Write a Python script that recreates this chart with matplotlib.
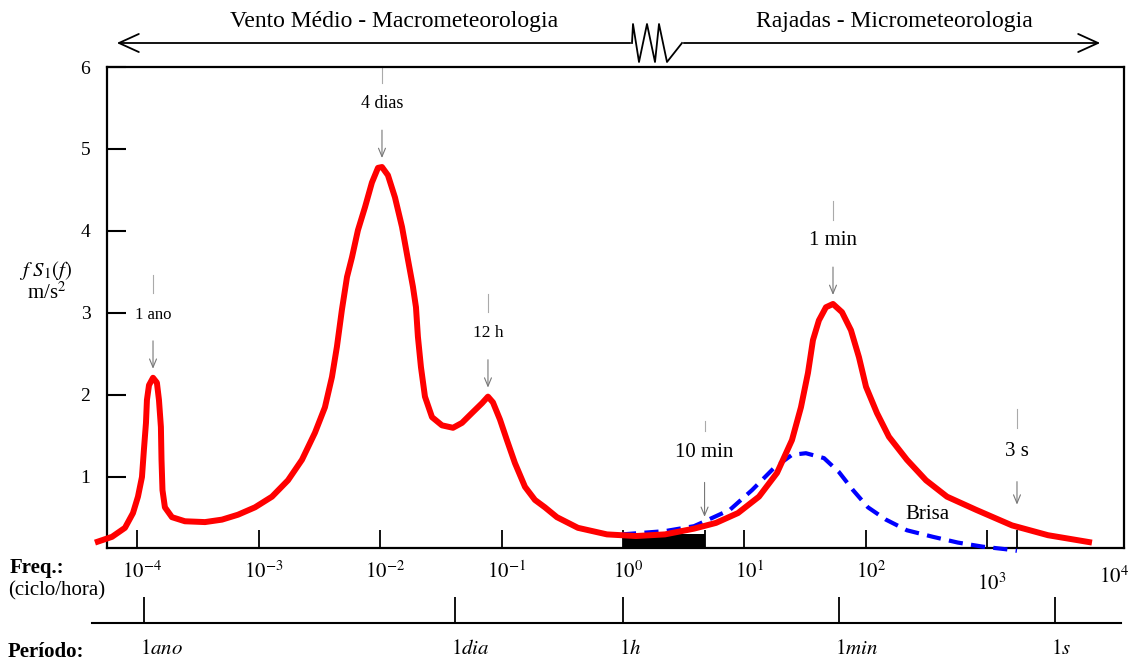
import numpy as np
import matplotlib
matplotlib.use('Agg')
import matplotlib.pyplot as plt
from matplotlib.lines import Line2D
from matplotlib.patches import FancyArrowPatch
from matplotlib.ticker import NullLocator
from matplotlib.transforms import offset_copy

plt.rcParams['font.family'] = ['Liberation Serif', 'DejaVu Serif']
plt.rcParams['mathtext.fontset'] = 'stix'

# espectro do vento horizontal: log10 da frequencia (ciclo/hora) e f*S1(f)
log_f_vento = [-4.349, -4.209, -4.102, -4.036, -3.995, -3.962, -3.946, -3.929, -3.921, -3.904,
               -3.871, -3.839, -3.822, -3.806, -3.801, -3.793, -3.773, -3.715, -3.608, -3.443,
               -3.303, -3.171, -3.031, -2.891, -2.759, -2.644, -2.537, -2.455, -2.397, -2.356,
               -2.315, -2.273, -2.232, -2.183, -2.125, -2.068, -2.018, -1.985, -1.936, -1.878,
               -1.820, -1.771, -1.730, -1.705, -1.689, -1.664, -1.631, -1.573, -1.491, -1.400,
               -1.326, -1.244, -1.161, -1.112, -1.071, -1.013, -0.956, -0.890, -0.807, -0.725,
               -0.643, -0.544, -0.371, -0.132, 0.107, 0.346, 0.585, 0.766, 0.947, 1.120,
               1.269, 1.392, 1.466, 1.524, 1.565, 1.614, 1.672, 1.730, 1.804, 1.878,
               1.944, 2.002, 2.092, 2.191, 2.339, 2.496, 2.669, 2.908, 3.204, 3.501,
               3.863]
fS_vento = [0.20, 0.27, 0.38, 0.56, 0.76, 1.00, 1.33, 1.66, 1.94, 2.12,
            2.21, 2.15, 1.94, 1.61, 1.21, 0.84, 0.63, 0.51, 0.46, 0.45,
            0.48, 0.54, 0.63, 0.76, 0.96, 1.21, 1.54, 1.85, 2.22, 2.59,
            3.04, 3.44, 3.68, 4.01, 4.29, 4.59, 4.77, 4.78, 4.68, 4.41,
            4.05, 3.65, 3.32, 3.07, 2.71, 2.34, 1.98, 1.73, 1.63, 1.60,
            1.66, 1.78, 1.90, 1.98, 1.91, 1.70, 1.45, 1.17, 0.88, 0.72,
            0.63, 0.51, 0.38, 0.30, 0.28, 0.30, 0.37, 0.44, 0.56, 0.76,
            1.05, 1.45, 1.85, 2.27, 2.67, 2.91, 3.07, 3.11, 3.01, 2.79,
            2.46, 2.10, 1.78, 1.49, 1.21, 0.96, 0.76, 0.60, 0.41, 0.29,
            0.20]

# brisa
log_f_brisa = [-0.008, 0.346, 0.585, 0.675, 0.881, 1.063, 1.244, 1.392, 1.507, 1.656,
               1.779, 1.895, 2.018, 2.166, 2.339, 2.554, 2.759, 2.965, 3.147, 3.245]
fS_brisa = [0.30, 0.34, 0.40, 0.46, 0.60, 0.84, 1.11, 1.27, 1.29, 1.23,
            1.06, 0.84, 0.63, 0.48, 0.35, 0.27, 0.20, 0.15, 0.12, 0.10]

# vazio espectral (faixa preta) e marca de 3 s
f_vazio = [1.0, 4.7]
fS_vazio = 0.30
f_3s = 1760

rotulos_picos = ['1 ano', '4 dias', '12 h', '1 min']
decadas = [-4, -3, -2, -1, 0, 1, 2, 3, 4]
periodos = [r'$1ano$', r'$1dia$', r'$1h$', r'$1min$', r'$1s$']
f_periodos = [1 / 8760, 1 / 24, 1, 60, 3600]

f_vento = 10.0 ** np.array(log_f_vento)
fS_vento = np.array(fS_vento)
f_brisa = 10.0 ** np.array(log_f_brisa)

W, H = 1137, 662
fig = plt.figure(figsize=(W / 100, H / 100), dpi=100)


def fx(px):
    return px / W


def fy(py):
    return 1 - py / H


ax = fig.add_axes([fx(107), fy(548), 1017 / W, 481 / H])
ax.set_xscale('log')
ax.set_xlim(10 ** -4.25, 10 ** 4.127)
ax.set_ylim(0.134, 6)

ax.fill_between(f_vazio, 0, fS_vazio, color='black', lw=0, zorder=2)
ax.plot(f_brisa, fS_brisa, color='#0000ff', lw=3, ls=(0, (3.4, 2.0)),
        clip_on=False, zorder=3)
ax.plot(f_vento, fS_vento, color='#ff0000', lw=4.3, solid_joinstyle='round',
        solid_capstyle='butt', clip_on=False, zorder=4)

# eixos
for s in ax.spines.values():
    s.set_linewidth(1.6)
ax.set_xticks([10.0 ** k for k in decadas[:-1]] + [f_vazio[1], f_3s])
ax.xaxis.set_minor_locator(NullLocator())
ax.tick_params(axis='x', direction='in', length=13, width=1.3, labelbottom=False)
ax.set_yticks(range(1, 7))
ax.tick_params(axis='y', direction='in', length=13.5, width=1.5, labelsize=14, pad=12)

lab_tr = offset_copy(ax.get_xaxis_transform(), fig=fig, x=5, units='dots')
for k in decadas:
    yl = -0.05
    if k == 3:
        yl = -0.075
    elif k == 4:
        yl = -0.06
    ax.text(10.0 ** k, yl, rf'$10^{{{k}}}$', transform=lab_tr, ha='center',
            va='center', fontsize=15)


def seta(x, y0, txt, size, d_tip, d_tail, d_txt, d_l0, d_l1):
    ax.plot([x, x], [y0 + d_l0, y0 + d_l1], color='#aaaaaa', lw=0.8)
    ax.annotate('', xy=(x, y0 + d_tip), xytext=(x, y0 + d_tail),
                arrowprops=dict(arrowstyle='->,head_length=0.6,head_width=0.25',
                                color='#777777', lw=0.8, shrinkA=0, shrinkB=0))
    ax.text(x, y0 + d_txt, txt, ha='center', va='center', fontsize=size)


# setas sobre os picos
picos = [i for i in range(1, len(fS_vento) - 1)
         if fS_vento[i] > fS_vento[i - 1] and fS_vento[i] > fS_vento[i + 1]]
tamanhos = [12, 13, 12.5, 15]
for i, txt, sz in zip(picos, rotulos_picos, tamanhos):
    seta(f_vento[i], fS_vento[i], txt, sz, 0.11, 0.45, 0.77, 1.03, 1.25)

y10 = np.interp(np.log10(f_vazio[1]), log_f_vento, fS_vento)
seta(f_vazio[1], y10, '10 min', 15, 0.11, 0.53, 0.89, 1.16, 1.28)
y3 = np.interp(np.log10(f_3s), log_f_vento, fS_vento)
seta(f_3s, y3, '3 s', 15, 0.27, 0.55, 0.92, 1.20, 1.43)

ax.text(325, 0.54, 'Brisa', ha='center', va='center', fontsize=15)

# eixo de periodos
axp = fig.add_axes([fx(92), fy(623), 1029 / W, 1e-4])
axp.set_xscale('log')
axp.set_xlim(10 ** -4.374, 10 ** 4.102)
axp.patch.set_visible(False)
for nome, s in axp.spines.items():
    s.set_visible(nome == 'bottom')
axp.spines['bottom'].set_linewidth(1.5)
axp.set_yticks([])
axp.set_xticks(f_periodos)
axp.xaxis.set_minor_locator(NullLocator())
axp.tick_params(axis='x', direction='in', length=19, width=1.3, labelbottom=False)
per_tr = offset_copy(axp.get_xaxis_transform(), fig=fig, x=-4, y=-27, units='dots')
for f, lab in zip(f_periodos, periodos):
    axp.text(f, 0, lab, transform=per_tr, ha='left', va='center', fontsize=15)

fig.text(fx(10), fy(568), 'Freq.:', fontsize=15, weight='bold', ha='left', va='center')
fig.text(fx(8), fy(591), '(ciclo/hora)', fontsize=15, ha='left', va='center')
fig.text(fx(8), fy(652), 'Período:', fontsize=15, weight='bold', ha='left', va='center')

fig.text(fx(46), fy(271), r'$f\ S_1(f)$', fontsize=15, ha='center', va='center')
fig.text(fx(47), fy(293), r'm/s$^2$', fontsize=15, ha='center', va='center')

# escalas no topo
y_top = fy(43)
fig.add_artist(FancyArrowPatch((fx(633), y_top), (fx(114), y_top), transform=fig.transFigure,
                               arrowstyle='->,head_length=1.1,head_width=0.5',
                               mutation_scale=13, lw=1.3, color='black'))
fig.add_artist(FancyArrowPatch((fx(681), y_top), (fx(1103), y_top), transform=fig.transFigure,
                               arrowstyle='->,head_length=1.1,head_width=0.5',
                               mutation_scale=13, lw=1.3, color='black'))
zx = [632, 633, 639, 647, 655, 659, 667, 682]
zy = [43, 24, 62, 24, 62, 24, 62, 43]
fig.add_artist(Line2D([fx(v) for v in zx], [fy(v) for v in zy], transform=fig.transFigure,
                      color='black', lw=1.3))
fig.text(fx(394), fy(22), 'Vento Médio - Macrometeorologia', fontsize=17,
         ha='center', va='center')
fig.text(fx(894), fy(22), 'Rajadas - Micrometeorologia', fontsize=17,
         ha='center', va='center')

fig.savefig('out.png', dpi=100)
